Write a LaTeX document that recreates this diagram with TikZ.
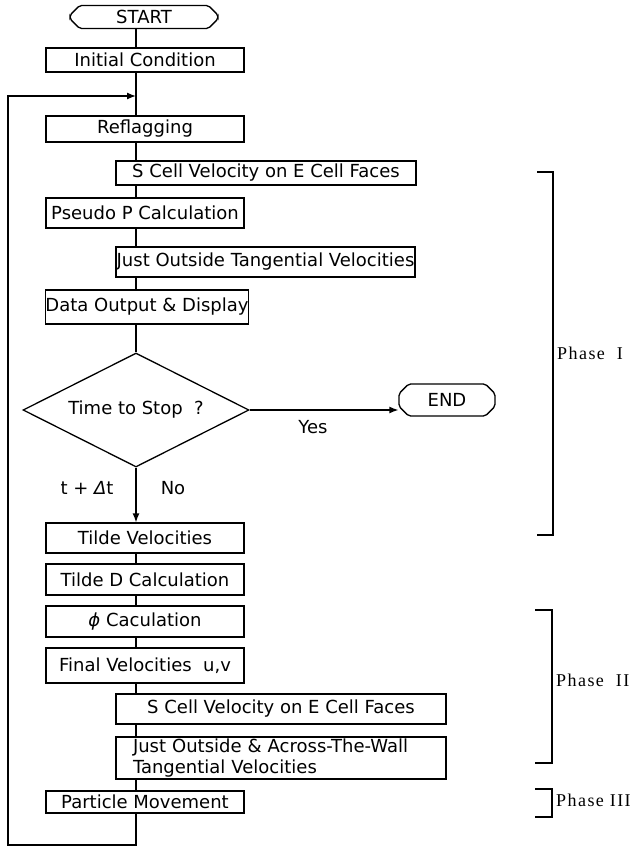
\documentclass[tikz,border=0pt]{standalone}
\usepackage{fontspec}
\setmainfont{DejaVu Sans}
\newfontfamily\phasefont[LetterSpace=8]{Liberation Serif}
\usetikzlibrary{shapes.geometric,shapes.misc,arrows.meta}
\begin{document}
\begin{tikzpicture}[x=1pt,y=-1pt,
  every node/.style={font=\fontsize{18}{21}\selectfont, inner sep=0pt},
  box/.style={draw, line width=1.3pt, rectangle, minimum width=198pt},
  term/.style={draw, line width=1.3pt, chamfered rectangle, chamfered rectangle xsep=6pt, rounded corners=2pt},
  dec/.style={draw, line width=1.3pt, diamond, aspect=2, minimum width=226pt, minimum height=114pt},
  link/.style={line width=1.3pt},
  arr/.style={line width=1.3pt, -{Latex[length=9pt,width=7pt]}},
  bracketline/.style={line width=1.4pt},
  phase/.style={font=\phasefont\fontsize{18}{21}\selectfont, anchor=west}
]
\useasboundingbox (0,0) rectangle (638,847);
\coordinate (sp) at (136,0);
\node[term, minimum width=148pt, minimum height=23pt] (start) at (144,17) {START};
\node[box, minimum height=24pt] (init) at (145,60) {Initial Condition};
\node[box, minimum height=26pt] (refl) at (145,129) {Reflagging};
\node[box, minimum width=300pt, minimum height=24pt] (scA) at (266,173) {S Cell Velocity on E Cell Faces};
\node[box, minimum height=30pt] (pseudo) at (145,213) {Pseudo P Calculation};
\node[box, minimum width=299pt, minimum height=30pt] (joA) at (265.5,262) {Just Outside Tangential Velocities};
\node[box, minimum width=202pt, minimum height=34pt] (data) at (147,307) {Data Output \& Display};
\node[dec] (stop) at (136,410) {Time to Stop\ \ ?};
\node[term, minimum width=96pt, minimum height=32pt] (end) at (447,400) {END};
\node (yes) at (313,427) {Yes};
\node (dt) at (87,488) {t + {\itshape Δ}t};
\node (no) at (173,488) {No};
\node[box, minimum height=30pt] (tv) at (145,538) {Tilde Velocities};
\node[box, minimum height=31pt] (td) at (145,579.5) {Tilde D Calculation};
\node[box, minimum height=31pt] (phi) at (145,621.5) {{\itshape ϕ} Caculation};
\node[box, minimum height=35pt] (fv) at (145,665.5) {Final Velocities\ \ u,v};
\node[box, minimum width=330pt, minimum height=30pt] (scB) at (281,709) {S Cell Velocity on E Cell Faces};
\node[box, minimum width=330pt, minimum height=42pt, align=left, text width=296pt] (joB) at (281,758) {Just Outside \& Across-The-Wall\\Tangential Velocities};
\node[box, minimum height=22pt] (pm) at (145,802) {Particle Movement};
\coordinate (lb) at (8,845);
\coordinate (mg) at (136,96);
% spine
\draw[link] (start.south -| sp) -- (init.north -| sp);
\draw[link] (init.south -| sp) -- (refl.north -| sp);
\draw[link] (refl.south -| sp) -- (scA.north -| sp);
\draw[link] (scA.south -| sp) -- (pseudo.north -| sp);
\draw[link] (pseudo.south -| sp) -- (joA.north -| sp);
\draw[link] (joA.south -| sp) -- (data.north -| sp);
\draw[link] (data.south -| sp) -- (stop.north);
\draw[arr] (stop.east) -- (stop.east -| end.west);
\draw[arr] (stop.south) -- (tv.north -| sp);
\draw[link] (tv.south -| sp) -- (td.north -| sp);
\draw[link] (td.south -| sp) -- (phi.north -| sp);
\draw[link] (phi.south -| sp) -- (fv.north -| sp);
\draw[link] (fv.south -| sp) -- (scB.north -| sp);
\draw[link] (scB.south -| sp) -- (joB.north -| sp);
\draw[link] (joB.south -| sp) -- (pm.north -| sp);
\draw[arr] (pm.south -| sp) |- (lb) |- (mg);
% phase brackets
\draw[bracketline] (537,172) -| (553,535) -- (537,535);
\node[phase] (p1) at (557,353) {Phase\ \ I};
\draw[bracketline] (535,610) -| (552,763) -- (535,763);
\node[phase] (p2) at (556,680) {Phase\ \ II};
\draw[bracketline] (535,789) -| (552,817) -- (535,817);
\node[phase] (p3) at (556,800) {Phase III};
\end{tikzpicture}
\end{document}
